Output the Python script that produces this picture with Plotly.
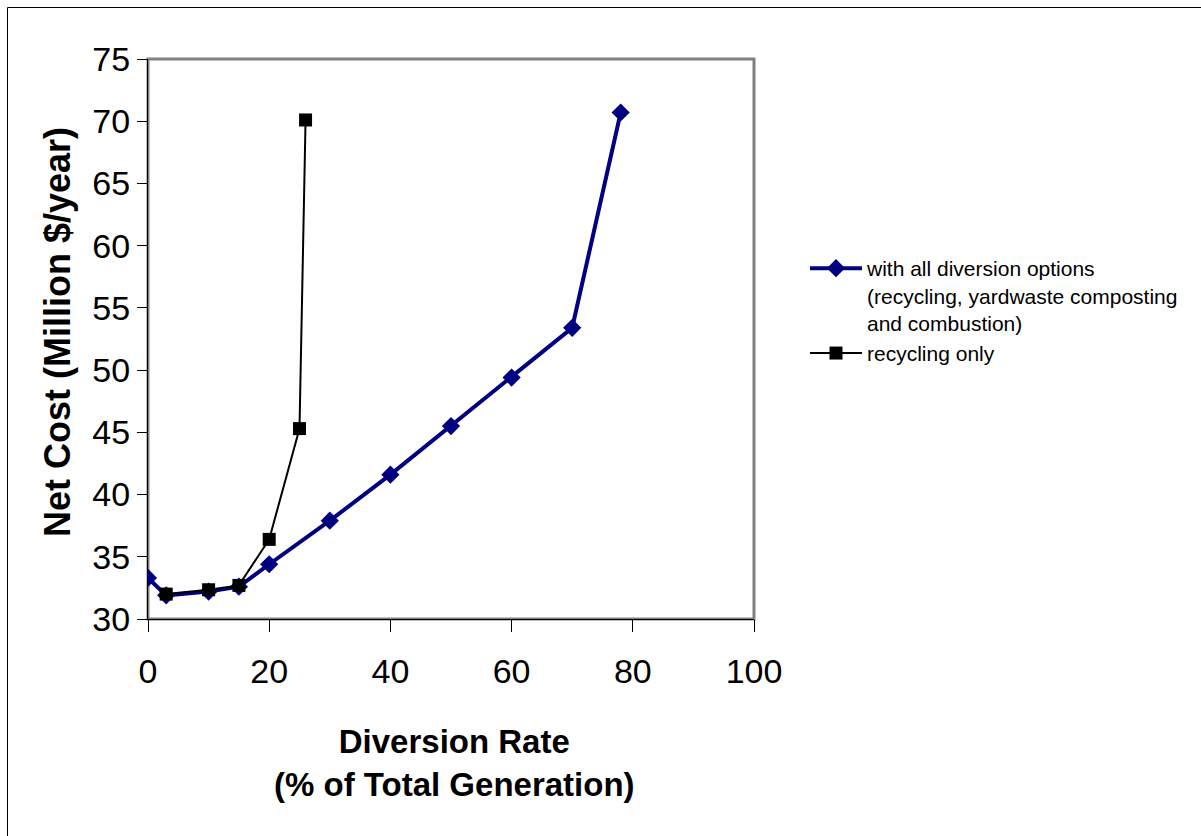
import plotly.graph_objects as go

# Data
x_all = [0, 3, 10, 15, 20, 30, 40, 50, 60, 70, 78]
y_all = [33.3, 31.9, 32.2, 32.6, 34.4, 37.9, 41.6, 45.5, 49.4, 53.4, 70.7]
x_rec = [3, 10, 15, 20, 25, 26]
y_rec = [32.0, 32.35, 32.7, 36.4, 45.3, 70.1]

name_all = "with all diversion options<br>(recycling, yardwaste composting<br>and combustion)"
name_rec = "recycling only"

x_ticks = [0, 20, 40, 60, 80, 100]
y_ticks = [30, 35, 40, 45, 50, 55, 60, 65, 70, 75]

FONT = "Liberation Sans, Arial, sans-serif"
W, H = 1201, 836
L, R, T, B = 148, 754, 59, 619

fig = go.Figure()
fig.add_trace(go.Scatter(
    x=x_all, y=y_all, name=name_all, mode="lines+markers",
    line=dict(color="#000080", width=4),
    marker=dict(symbol="diamond", size=14, color="#000080"),
))
fig.add_trace(go.Scatter(
    x=x_rec, y=y_rec, name=name_rec, mode="lines+markers",
    line=dict(color="#000000", width=2),
    marker=dict(symbol="square", size=13, color="#000000"),
))

def px_to_paper_x(px):
    return (px - L) / (R - L)

def px_to_paper_y(py):
    return (B - py) / (B - T)

fig.update_layout(
    width=W, height=H,
    margin=dict(l=L, r=W - R, t=T, b=H - B, pad=0),
    paper_bgcolor="white", plot_bgcolor="white",
    font=dict(family=FONT, color="black", size=21),
    showlegend=True,
    legend=dict(
        x=px_to_paper_x(805), y=px_to_paper_y(248), xanchor="left", yanchor="top",
        xref="paper", yref="paper",
        font=dict(family=FONT, size=21, color="black"),
        bgcolor="rgba(0,0,0,0)", valign="top", itemwidth=52,
        tracegroupgap=4,
    ),
    xaxis=dict(
        range=[0, 100], tickvals=x_ticks, ticktext=[str(v) for v in x_ticks],
        showgrid=False, zeroline=False, showline=True, linecolor="black", linewidth=1,
        ticks="outside", ticklen=12, tickcolor="black", tickwidth=1,
        ticklabelstandoff=10,
        tickfont=dict(family=FONT, size=34, color="black"),
    ),
    yaxis=dict(
        range=[30, 75], tickvals=y_ticks, ticktext=[str(v) for v in y_ticks],
        showgrid=False, zeroline=False, showline=True, linecolor="black", linewidth=1,
        ticks="outside", ticklen=10, tickcolor="black", tickwidth=1,
        tickfont=dict(family=FONT, size=34, color="black"),
    ),
    shapes=[
        # plot area border (grey)
        dict(type="rect", xref="x domain", yref="y domain", x0=0, x1=1, y0=0, y1=1,
             line=dict(color="#808080", width=3), layer="below"),
        # outer chart border
        dict(type="rect", xref="paper", yref="paper",
             x0=px_to_paper_x(7.5), x1=px_to_paper_x(1215),
             y0=px_to_paper_y(850), y1=px_to_paper_y(7.5),
             line=dict(color="black", width=1), layer="below"),
    ],
    annotations=[
        dict(text="<b>Net Cost (Million $/year)</b>", textangle=-90,
             xref="paper", yref="paper", x=px_to_paper_x(57), y=px_to_paper_y(332),
             xanchor="center", yanchor="middle", showarrow=False,
             font=dict(family=FONT, size=36, color="black")),
        dict(text="<b>Diversion Rate</b><br><b>(% of Total Generation)</b>",
             xref="paper", yref="paper", x=px_to_paper_x(454), y=px_to_paper_y(763),
             xanchor="center", yanchor="middle", showarrow=False,
             font=dict(family=FONT, size=33, color="black")),
    ],
)

fig.write_html("out.html")
